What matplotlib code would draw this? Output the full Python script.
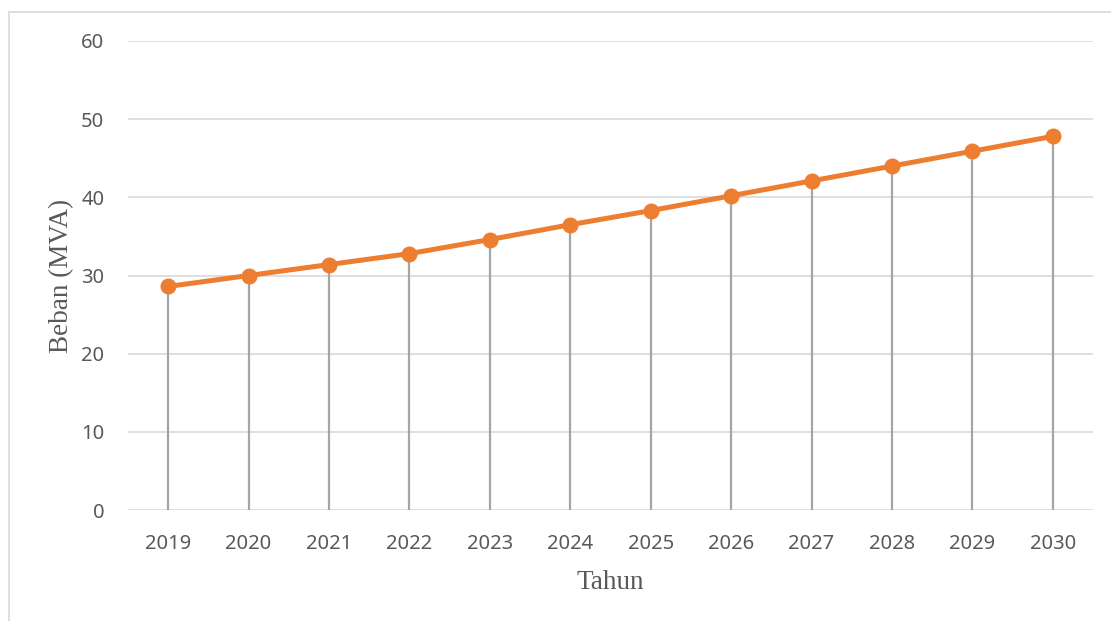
import matplotlib
matplotlib.use("Agg")
import matplotlib.pyplot as plt
from matplotlib.patches import Rectangle

years = ["2019", "2020", "2021", "2022", "2023", "2024",
         "2025", "2026", "2027", "2028", "2029", "2030"]
beban = [28.6, 30.0, 31.4, 32.8, 34.6, 36.5, 38.3, 40.2, 42.1, 44.0, 45.9, 47.8]
yticks = [0, 10, 20, 30, 40, 50, 60]

W, H = 1111, 621
fig = plt.figure(figsize=(W / 100, H / 100), dpi=100)
fig.patch.set_facecolor("white")

# outer chart frame (cropped at right/bottom)
fig.patches.append(Rectangle((9 / W, -0.1), 1.2, 1 - 12 / H + 0.1,
                             transform=fig.transFigure, fill=False,
                             edgecolor="#D9D9D9", linewidth=1.2))

left, right = 128 / W, 1093 / W
bottom, top = 1 - 510 / H, 1 - 41 / H
ax = fig.add_axes([left, bottom, right - left, top - bottom])

x = list(range(len(years)))
ax.set_xlim(-0.5, len(years) - 0.5)
ax.set_ylim(0, 60)

for yv in yticks:
    ax.axhline(yv, color="#D9D9D9", linewidth=1.2, zorder=1)

ax.vlines(x, 0, beban, colors="#A5A5A5", linewidth=1.6, zorder=2)
ax.plot(x, beban, color="#ED7D31", linewidth=3.6, marker="o",
        markersize=10.5, markerfacecolor="#ED7D31",
        markeredgecolor="#ED7D31", zorder=3, solid_capstyle="round")

for s in ax.spines.values():
    s.set_visible(False)

ax.set_yticks(yticks)
ax.set_yticklabels([str(v) for v in yticks])
ax.set_xticks(x)
ax.set_xticklabels(years)
ax.tick_params(axis="both", length=0, labelsize=14.5, labelcolor="#595959")
ax.tick_params(axis="y", pad=17)
ax.tick_params(axis="x", pad=17)
for lab in ax.get_xticklabels() + ax.get_yticklabels():
    lab.set_fontfamily("Noto Sans")

ax.set_xlabel("Tahun", fontfamily="Liberation Serif", fontsize=19.5,
              color="#595959", labelpad=12)
ax.set_ylabel("Beban (MVA)", fontfamily="Liberation Serif", fontsize=19.5,
              color="#595959", labelpad=5)

fig.savefig("out.png", dpi=100, facecolor="white")
